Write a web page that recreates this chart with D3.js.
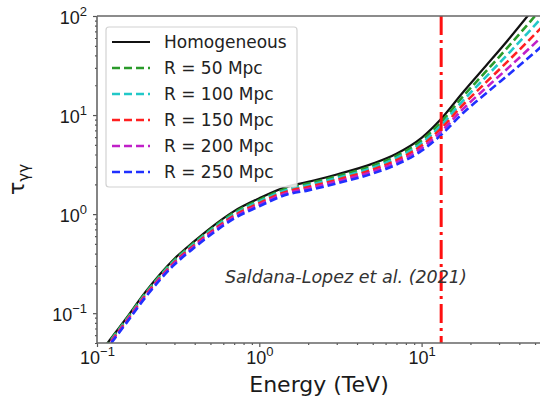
<!DOCTYPE html>
<html>
<head>
<meta charset="utf-8">
<script src="https://cdn.jsdelivr.net/npm/d3@7"></script>
<style>
  html, body { margin: 0; padding: 0; background: #fff; }
  svg { display: block; font-family: "DejaVu Sans", sans-serif; }
</style>
</head>
<body>
<svg id="chart" width="540" height="401"></svg>
<script>
// Photon-photon optical depth versus gamma-ray energy
const energy = [0.1, 0.12, 0.15, 0.2, 0.3, 0.4, 0.5, 0.7, 1, 1.5, 2, 3, 5, 7, 10, 13, 18, 25, 35, 45, 60];
const tauHomogeneous = [0.0358, 0.0537, 0.0871, 0.166, 0.355, 0.537, 0.724, 1.072, 1.445, 1.905, 2.113, 2.512, 3.236, 4.074, 5.888, 8.913, 16.98, 31.62, 60.26, 100, 177.8];
const tauR50  = [0.0350, 0.0525, 0.0851, 0.162, 0.345, 0.521, 0.701, 1.036, 1.393, 1.836, 2.033, 2.409, 3.090, 3.874, 5.546, 8.280, 15.42, 27.79, 51.04, 82.0, 141.2];
const tauR100 = [0.0342, 0.0513, 0.0832, 0.158, 0.336, 0.506, 0.679, 1.000, 1.342, 1.770, 1.955, 2.311, 2.951, 3.683, 5.223, 7.692, 13.99, 24.44, 43.27, 67.3, 112.2];
const tauR150 = [0.0334, 0.0501, 0.0813, 0.154, 0.327, 0.491, 0.657, 0.967, 1.293, 1.705, 1.878, 2.218, 2.819, 3.500, 4.916, 7.148, 12.70, 21.47, 36.64, 55.2, 89.1];
const tauR200 = [0.0326, 0.0490, 0.0794, 0.150, 0.318, 0.476, 0.636, 0.934, 1.247, 1.644, 1.807, 2.128, 2.692, 3.328, 4.634, 6.640, 11.53, 18.88, 31.03, 45.3, 70.8];
const tauR250 = [0.0319, 0.0478, 0.0776, 0.146, 0.309, 0.462, 0.616, 0.902, 1.202, 1.585, 1.737, 2.042, 2.570, 3.161, 4.363, 6.168, 10.48, 16.60, 26.33, 37.2, 56.2];

const seriesNames  = ["Homogeneous", "R = 50 Mpc", "R = 100 Mpc", "R = 150 Mpc", "R = 200 Mpc", "R = 250 Mpc"];
const seriesValues = [tauHomogeneous, tauR50, tauR100, tauR150, tauR200, tauR250];
const seriesColors = ["#111111", "#2a9a2a", "#22c8c8", "#ff2020", "#c020c8", "#2030ff"];

const markerEnergy = 13.2;   // vertical reference energy (TeV)
const xMajorTicks = [0.1, 1, 10];
const xTickExp    = ["\u22121", "0", "1"];
const yMajorTicks = [0.1, 1, 10, 100];
const yTickExp    = ["\u22121", "0", "1", "2"];
const annotation  = "Saldana-Lopez et al. (2021)";

(function draw() {
  const svg = d3.select("#chart");
  const plotL = 97, plotT = 16, plotB = 343, decade = 162.3;

  const x = d3.scaleLog().domain([0.1, 100]).range([plotL, plotL + 3 * decade]);
  const y = d3.scaleLog().domain([0.05, 100]).range([plotB, plotT]);

  svg.append("defs").append("clipPath").attr("id", "plotClip")
    .append("rect").attr("x", plotL).attr("y", plotT)
    .attr("width", x.range()[1] - plotL).attr("height", plotB - plotT);

  // minor tick values
  const minorX = [];
  [0.1, 1, 10].forEach(d => { for (let k = 2; k <= 9; k++) minorX.push(d * k); });
  const minorY = [];
  [0.01, 0.1, 1, 10].forEach(d => { for (let k = 2; k <= 9; k++) { const v = d * k; if (v >= 0.05 && v <= 100) minorY.push(v); } });

  const tickColor = "#555";

  // Axes
  const gx = svg.append("g").attr("transform", `translate(0,${plotB})`);
  gx.call(d3.axisBottom(x).tickValues(minorX).tickSize(2).tickFormat(""));
  const gxMaj = svg.append("g").attr("transform", `translate(0,${plotB})`);
  gxMaj.call(d3.axisBottom(x).tickValues(xMajorTicks).tickSize(4).tickFormat(""));

  const gy = svg.append("g").attr("transform", `translate(${plotL},0)`);
  gy.call(d3.axisLeft(y).tickValues(minorY).tickSize(2).tickFormat(""));
  const gyMaj = svg.append("g").attr("transform", `translate(${plotL},0)`);
  gyMaj.call(d3.axisLeft(y).tickValues(yMajorTicks).tickSize(4).tickFormat(""));

  svg.selectAll(".domain").remove();
  svg.selectAll(".tick text").remove();
  svg.selectAll(".tick line").attr("stroke", tickColor).attr("stroke-width", 1.2);

  // x tick labels 10^n
  gxMaj.selectAll(".tick").each(function(d, i) {
    const t = d3.select(this).append("text")
      .attr("y", 21).attr("fill", "#1a1a1a").attr("font-size", 18)
      .attr("text-anchor", "middle");
    t.append("tspan").text("10");
    t.append("tspan").attr("dy", -8).attr("font-size", 13).text(xTickExp[i]);
  });
  // y tick labels 10^n
  gyMaj.selectAll(".tick").each(function(d, i) {
    const t = d3.select(this).append("text")
      .attr("x", -10).attr("y", 7).attr("fill", "#1a1a1a").attr("font-size", 18)
      .attr("text-anchor", "end");
    t.append("tspan").text("10");
    t.append("tspan").attr("dy", -8).attr("font-size", 13).text(yTickExp[i]);
  });

  // Curves
  const plot = svg.append("g").attr("clip-path", "url(#plotClip)");
  const line = d3.line().x(d => x(d[0])).y(d => y(d[1])).curve(d3.curveMonotoneX);

  seriesValues.forEach((vals, i) => {
    const pts = energy.map((e, j) => [e, vals[j]]);
    plot.append("path").datum(pts)
      .attr("d", line)
      .attr("fill", "none")
      .attr("stroke", seriesColors[i])
      .attr("stroke-width", i === 0 ? 2.2 : 2.6)
      .attr("stroke-dasharray", i === 0 ? null : "8,4");
  });

  // Vertical dash-dot marker
  plot.append("line")
    .attr("x1", x(markerEnergy)).attr("x2", x(markerEnergy))
    .attr("y1", plotT).attr("y2", plotB)
    .attr("stroke", "#ff1010").attr("stroke-width", 3)
    .attr("stroke-dasharray", "19,5,3,5");

  // Spines (left, bottom, top)
  const spine = svg.append("g").attr("stroke", "#666").attr("stroke-width", 1.6).attr("fill", "none");
  spine.append("line").attr("x1", plotL).attr("x2", plotL).attr("y1", plotT).attr("y2", plotB);
  spine.append("line").attr("x1", plotL).attr("x2", 560).attr("y1", plotB).attr("y2", plotB);
  spine.append("line").attr("x1", plotL).attr("x2", 560).attr("y1", plotT).attr("y2", plotT);

  // Annotation
  svg.append("text")
    .attr("x", 225).attr("y", 283)
    .attr("font-size", 17.5).attr("font-style", "italic").attr("fill", "#333")
    .text(annotation);

  // Axis titles
  svg.append("text")
    .attr("x", 319).attr("y", 392)
    .attr("text-anchor", "middle").attr("font-size", 22).attr("fill", "#1a1a1a")
    .text("Energy (TeV)");

  const yl = svg.append("text")
    .attr("transform", `translate(24,${(plotT + plotB) / 2}) rotate(-90)`)
    .attr("text-anchor", "middle").attr("font-size", 22).attr("fill", "#1a1a1a");
  yl.append("tspan").text("\u03c4");
  yl.append("tspan").attr("dy", 5).attr("font-size", 15).text("\u03b3\u03b3");

  // Legend
  const lg = svg.append("g");
  lg.append("rect")
    .attr("x", 106).attr("y", 27).attr("width", 191).attr("height", 160)
    .attr("rx", 3).attr("fill", "#fff").attr("fill-opacity", 0.85)
    .attr("stroke", "#d2d2d2").attr("stroke-width", 1.2);
  seriesNames.forEach((name, i) => {
    const cy = 42 + i * 26;
    lg.append("line")
      .attr("x1", 112).attr("x2", 150).attr("y1", cy).attr("y2", cy)
      .attr("stroke", seriesColors[i])
      .attr("stroke-width", i === 0 ? 2.2 : 2.6)
      .attr("stroke-dasharray", i === 0 ? null : "8,4");
    lg.append("text")
      .attr("x", 164).attr("y", cy + 6)
      .attr("font-size", 17).attr("fill", "#222")
      .text(name);
  });
})();
</script>
</body>
</html>
